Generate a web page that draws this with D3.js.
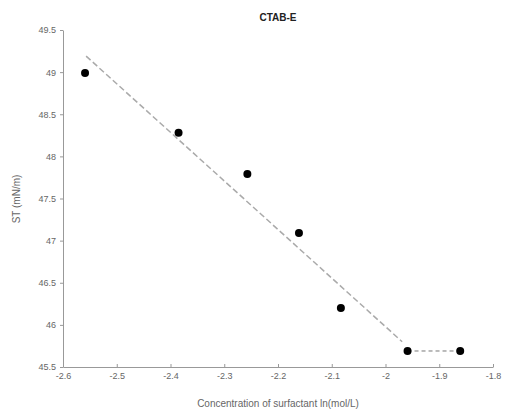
<!DOCTYPE html>
<html><head><meta charset="utf-8">
<script src="https://cdn.jsdelivr.net/npm/d3@7/dist/d3.min.js"></script>
<style>body{margin:0;background:#fff}</style>
</head><body>
<svg id="c" width="506" height="417"></svg>
<script>
const concX = [-2.559, -2.385, -2.257, -2.161, -2.083, -1.959, -1.861];
const stY = [48.99, 48.28, 47.79, 47.09, 46.20, 45.69, 45.69];
const fitX = [-2.557, -1.969];
const fitY = [49.19, 45.80];
const plateauX = [-1.959, -1.861];
const plateauY = [45.69, 45.69];
const xTicks = [-2.6, -2.5, -2.4, -2.3, -2.2, -2.1, -2, -1.9, -1.8];
const xTickLabels = ["-2.6", "-2.5", "-2.4", "-2.3", "-2.2", "-2.1", "-2", "-1.9", "-1.8"];
const yTicks = [45.5, 46, 46.5, 47, 47.5, 48, 48.5, 49, 49.5];
const title = "CTAB-E";
const xLabel = "Concentration of surfactant ln(mol/L)";
const yLabel = "ST (mN/m)";

const svg = d3.select("#c");
const x = d3.scaleLinear().domain([-2.6, -1.8]).range([63, 493]);
const y = d3.scaleLinear().domain([45.5, 49.5]).range([367, 30]);
const axisColor = "#999";
const textColor = "#666";

const xAxis = svg.append("g").attr("transform", "translate(0,367)")
  .call(d3.axisBottom(x).tickValues(xTicks).tickFormat((d, i) => xTickLabels[i]).tickSizeInner(-3).tickSizeOuter(0).tickPadding(6));
const yAxis = svg.append("g").attr("transform", "translate(63,0)")
  .call(d3.axisLeft(y).tickValues(yTicks).tickFormat(d3.format("")).tickSizeInner(3).tickSizeOuter(0).tickPadding(4));
[xAxis, yAxis].forEach(g => {
  g.select(".domain").attr("stroke", axisColor);
  g.selectAll(".tick line").attr("stroke", axisColor);
  g.selectAll(".tick text").attr("fill", textColor).attr("font-family", "Liberation Sans, Arial, sans-serif").attr("font-size", 9);
});

const line = d3.line().x(d => x(d[0])).y(d => y(d[1]));
svg.append("path").attr("d", line(d3.zip(fitX, fitY)))
  .attr("fill", "none").attr("stroke", "#aaa").attr("stroke-width", 1.5).attr("stroke-dasharray", "6,3");
svg.append("path").attr("d", line(d3.zip(plateauX, plateauY)))
  .attr("fill", "none").attr("stroke", "#777").attr("stroke-width", 1).attr("stroke-dasharray", "4,3");

svg.append("g").selectAll("circle").data(d3.zip(concX, stY)).join("circle")
  .attr("cx", d => x(d[0])).attr("cy", d => y(d[1])).attr("r", 4).attr("fill", "#000");

svg.append("text").attr("x", 278).attr("y", 21).attr("text-anchor", "middle")
  .attr("font-family", "Liberation Sans, Arial, sans-serif").attr("font-size", 10).attr("font-weight", "bold").attr("fill", "#222").text(title);
svg.append("text").attr("x", 278).attr("y", 407).attr("text-anchor", "middle")
  .attr("font-family", "Liberation Sans, Arial, sans-serif").attr("font-size", 10).attr("fill", textColor).text(xLabel);
svg.append("text").attr("transform", "translate(20,199) rotate(-90)").attr("text-anchor", "middle")
  .attr("font-family", "Liberation Sans, Arial, sans-serif").attr("font-size", 10).attr("fill", textColor).text(yLabel);
</script>
</body></html>
